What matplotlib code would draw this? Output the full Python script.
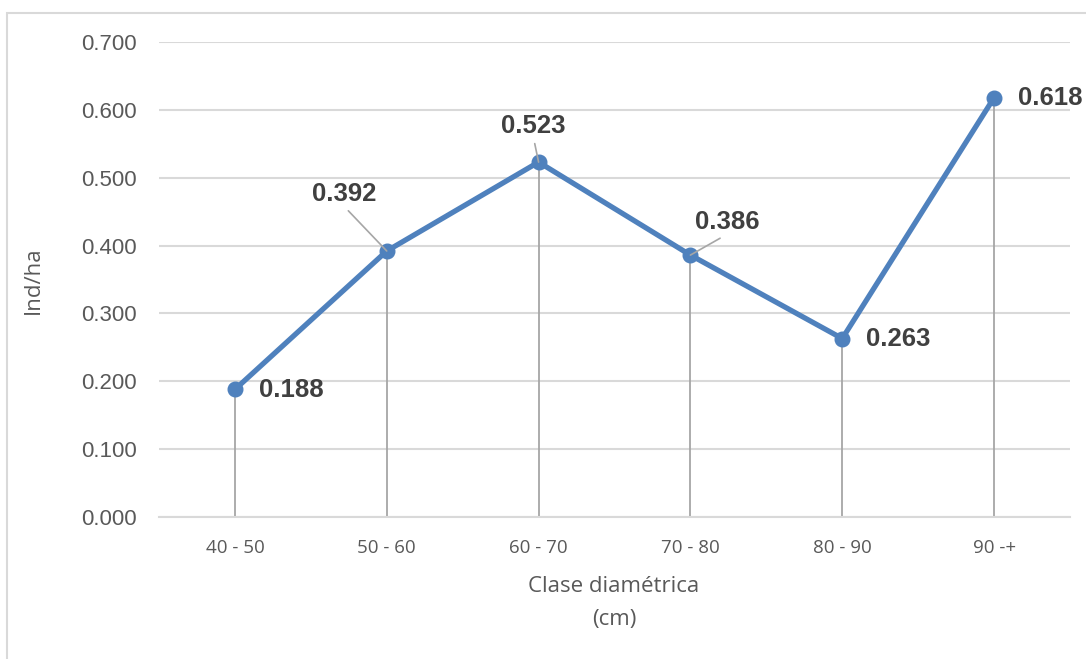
import numpy as np
import matplotlib.pyplot as plt
from matplotlib.patches import Rectangle

#==========================================================
# data
#==========================================================
clases = ['40 - 50', '50 - 60', '60 - 70', '70 - 80', '80 - 90', '90 -+']
ind_ha = [0.188, 0.392, 0.523, 0.386, 0.263, 0.618]
yticks = [0.0, 0.1, 0.2, 0.3, 0.4, 0.5, 0.6, 0.7]

# label offsets in pixels (dx, dy) relative to each point
lab_off = [(56, -1), (-43, 57), (-5, 36), (37, 33), (56, 0), (56, 0)]
leader = [False, True, True, True, False, False]

#==========================================================
# plot
#==========================================================
W, H = 1086, 659
fig = plt.figure(figsize=(W/100, H/100), dpi=100)
ax = fig.add_axes([159/W, 1-517/H, (1070-159)/W, (517-42)/H])

x = np.arange(len(clases))

ax.vlines(x, 0, ind_ha, color='#A6A6A6', lw=1.3, zorder=2)
ax.plot(x, ind_ha, color='#4F81BD', lw=3.8, marker='o', markersize=10.5,
        solid_capstyle='round', zorder=4)

for i in range(len(x)):
    dx, dy = lab_off[i]
    kw = {}
    if leader[i]:
        kw['arrowprops'] = dict(arrowstyle='-', color='#A6A6A6', lw=1.2,
                                relpos=(0.5, 0.0), shrinkA=2, shrinkB=0)
    ax.annotate('%.3f' % ind_ha[i], xy=(x[i], ind_ha[i]),
                xytext=(dx, dy), textcoords='offset pixels',
                ha='center', va='center', fontsize=18.5, fontweight='bold',
                family='Liberation Sans', color='#404040', zorder=5, **kw)

ax.set_xlim(-0.5, len(clases)-0.5)
ax.set_ylim(0, 0.7)
ax.set_yticks(yticks)
ax.set_yticklabels(['%.3f' % v for v in yticks], family='Liberation Sans',
                   fontsize=16, color='#595959')
ax.set_xticks(x)
ax.set_xticklabels(clases, family='Open Sans', fontsize=13.5, color='#595959')
ax.tick_params(axis='y', length=0, pad=16)
ax.tick_params(axis='x', length=0, pad=16)

ax.grid(axis='y', color='#D9D9D9', lw=1.5)
ax.set_axisbelow(True)
for s in ['top', 'right', 'left']:
    ax.spines[s].set_visible(False)
ax.spines['bottom'].set_color('#D9D9D9')
ax.spines['bottom'].set_linewidth(1.5)

fig.text(33/W, 1-280/H, 'Ind/ha', rotation=90, ha='center', va='center',
         family='Open Sans', fontsize=16, color='#595959')
fig.text(614/W, 1-587/H, 'Clase diamétrica', ha='center', va='center',
         family='Open Sans', fontsize=16, color='#595959')
fig.text(614/W, 1-620/H, '(cm)', ha='center', va='center',
         family='Open Sans', fontsize=16, color='#595959')

# chart frame
fig.add_artist(Rectangle((7/W, -0.05), 1.0, 1-13/H+0.05, fill=False,
                         edgecolor='#D9D9D9', lw=1.5, transform=fig.transFigure))

plt.savefig('out.png', dpi=100)
plt.close()
